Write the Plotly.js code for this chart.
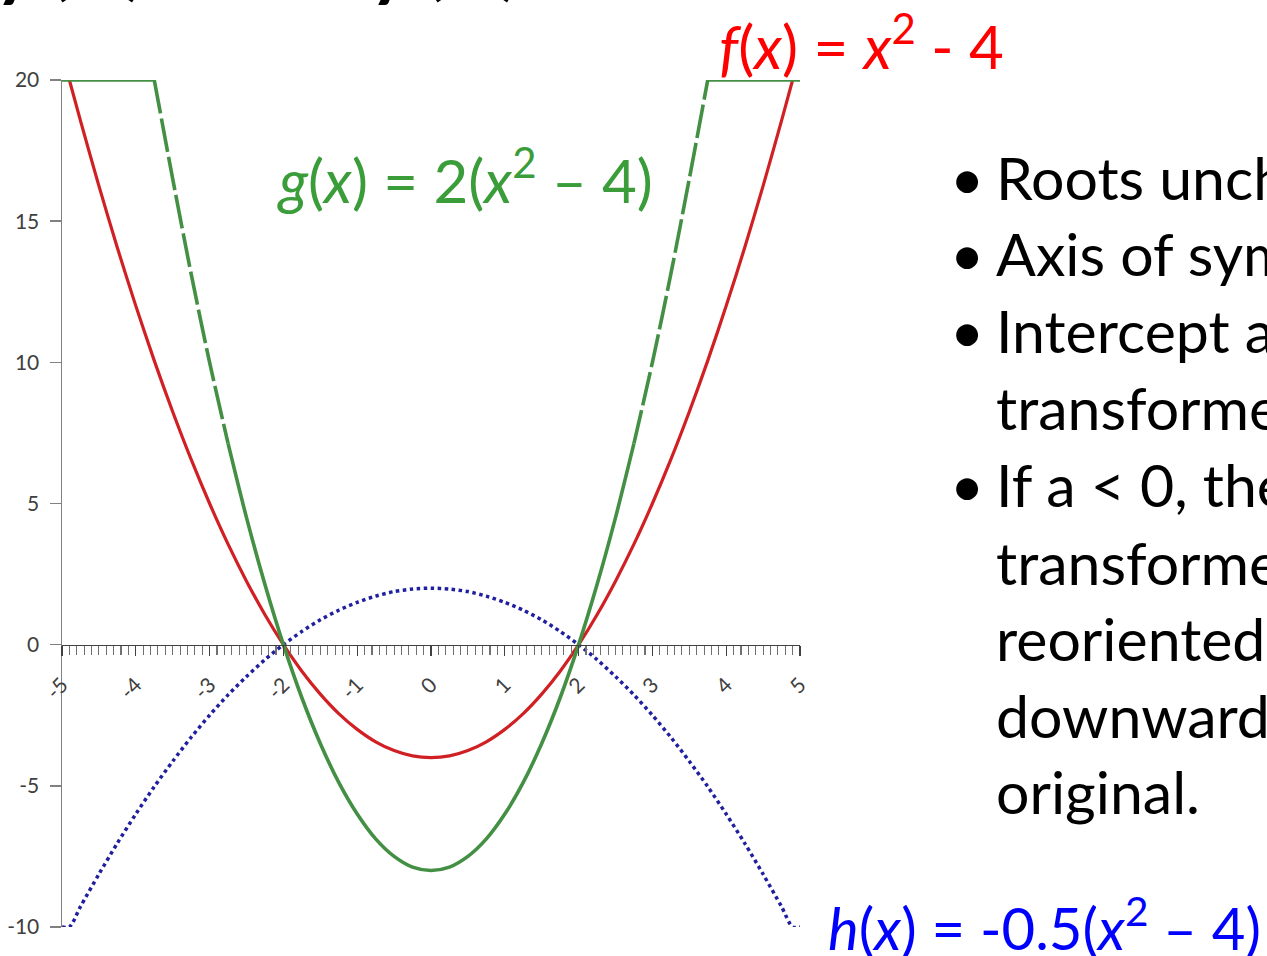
<!DOCTYPE html>
<html>
<head>
<meta charset="utf-8">
<script src="https://cdn.plot.ly/plotly-3.0.1.min.js"></script>
<style>
html,body{margin:0;padding:0;background:#fff;overflow:hidden;}
#chart{width:1267px;height:956px;}
</style>
</head>
<body>
<div id="chart"></div>
<script>
// ---- data ----
const xValues = [-5, -4.9, -4.75, -4.5, -4.25, -4, -3.75, -3.5, -3.25, -3, -2.75, -2.5, -2.25, -2, -1.75, -1.5, -1.25, -1, -0.75, -0.5, -0.25, 0,
                 0.25, 0.5, 0.75, 1, 1.25, 1.5, 1.75, 2, 2.25, 2.5, 2.75, 3, 3.25, 3.5, 3.75, 4, 4.25, 4.5, 4.75, 4.9, 5];
// f(x) = x^2 - 4 (red)
const fValues = [null, 20, 18.56, 16.25, 14.06, 12, 10.06, 8.25, 6.56, 5, 3.56, 2.25, 1.06, 0, -0.94, -1.75, -2.44, -3, -3.44, -3.75, -3.94, -4,
                 -3.94, -3.75, -3.44, -3, -2.44, -1.75, -0.94, 0, 1.06, 2.25, 3.56, 5, 6.56, 8.25, 10.06, 12, 14.06, 16.25, 18.56, 20, null];
// g(x) = 2(x^2 - 4) (green), capped at 20 in the picture
const gValues = [20, 20, 20, 20, 20, 20, 20, 16.5, 13.13, 10, 7.13, 4.5, 2.13, 0, -1.88, -3.5, -4.88, -6, -6.88, -7.5, -7.88, -8,
                 -7.88, -7.5, -6.88, -6, -4.88, -3.5, -1.88, 0, 2.13, 4.5, 7.13, 10, 13.13, 16.5, 20, 20, 20, 20, 20, 20, 20];
// h(x) = -0.5(x^2 - 4) (blue), capped at -10 in the picture
const hValues = [-10, -10, -9.28, -8.13, -7.03, -6, -5.03, -4.13, -3.28, -2.5, -1.78, -1.13, -0.53, 0, 0.47, 0.88, 1.22, 1.5, 1.72, 1.88, 1.97, 2,
                 1.97, 1.88, 1.72, 1.5, 1.22, 0.88, 0.47, 0, -0.53, -1.13, -1.78, -2.5, -3.28, -4.13, -5.03, -6, -7.03, -8.13, -9.28, -10, -10];
const yTickValues = [-10, -5, 0, 5, 10, 15, 20];
const yTickLabels = ['-10', '-5', '0', '5', '10', '15', '20'];
const xTickValues = [-5, -4, -3, -2, -1, 0, 1, 2, 3, 4, 5];
const xTickLabels = ['-5', '-4', '-3', '-2', '-1', '0', '1', '2', '3', '4', '5'];
const bulletLines = [
  {text: 'Roots unchanged', bullet: true},
  {text: 'Axis of symmetry unchanged', bullet: true},
  {text: 'Intercept and vertex', bullet: true},
  {text: 'transformed', bullet: false},
  {text: 'If a &lt; 0, then the', bullet: true},
  {text: 'transformed graph is', bullet: false},
  {text: 'reoriented', bullet: false},
  {text: 'downward from the', bullet: false},
  {text: 'original.', bullet: false}
];

// split green into steep (dashed-looking) and core parts
const steep = x => Math.abs(x) >= 2.75 && Math.abs(x) <= 3.75;
const core = x => Math.abs(x) <= 2.75 || Math.abs(x) >= 3.75;
const gSteep = gValues.map((v, i) => steep(xValues[i]) ? v : null);
const gCore = gValues.map((v, i) => core(xValues[i]) ? v : null);

// plot area in pixels
const L = 62, R = 800, T = 80, B = 927, W = 1267, H = 956;
const px = x => (x - L) / (R - L);
const py = y => (B - y) / (B - T);

const traces = [
  {x: xValues, y: hValues, mode: 'lines', line: {color: '#1f1fa0', width: 3.5, dash: 'dot', shape: 'spline', smoothing: 0.8}, cliponaxis: false, hoverinfo: 'skip'},
  {x: xValues, y: fValues, mode: 'lines', line: {color: '#d02024', width: 3.2, shape: 'spline', smoothing: 0.8}, cliponaxis: false, connectgaps: false, hoverinfo: 'skip'},
  {x: xValues, y: gCore, mode: 'lines', line: {color: '#438f43', width: 3.6, shape: 'spline', smoothing: 0.8}, cliponaxis: false, connectgaps: false, hoverinfo: 'skip'},
  {x: xValues, y: gSteep, mode: 'lines', line: {color: '#438f43', width: 3.6, shape: 'spline', smoothing: 0.8, dash: '34px,5px'}, cliponaxis: false, connectgaps: false, hoverinfo: 'skip'}
];

const bodyFont = 'Lato, "Open Sans", sans-serif';
const annotations = [];
annotations.push({xref: 'paper', yref: 'paper', x: px(861), y: py(42), xanchor: 'center', yanchor: 'middle', showarrow: false,
  text: '<i>f</i>(<i>x</i>) = <i>x</i><sup>2</sup> - 4', font: {family: bodyFont, size: 60, color: '#ff0000'}});
annotations.push({xref: 'paper', yref: 'paper', x: px(465), y: py(176), xanchor: 'center', yanchor: 'middle', showarrow: false,
  text: '<i>g</i>(<i>x</i>) = 2(<i>x</i><sup>2</sup> \u2013 4)', font: {family: bodyFont, size: 60, color: '#3a9d3a'}});
annotations.push({xref: 'paper', yref: 'paper', x: px(826), y: py(924), xanchor: 'left', yanchor: 'middle', showarrow: false,
  text: '<i>h</i>(<i>x</i>) = -0.5(<i>x</i><sup>2</sup> \u2013 4)', font: {family: bodyFont, size: 58, color: '#0000ff'}});
const lineY = [178, 253, 330, 407, 484, 562, 638, 715, 791];
bulletLines.forEach((ln, i) => {
  annotations.push({xref: 'paper', yref: 'paper', x: px(994), y: py(lineY[i]), xanchor: 'left', yanchor: 'middle', showarrow: false,
    text: ln.text, font: {family: bodyFont, size: 59, color: '#000000'}});
  if (ln.bullet) {
    annotations.push({xref: 'paper', yref: 'paper', x: px(967), y: py(lineY[i]), xanchor: 'center', yanchor: 'middle', showarrow: false,
      text: '\u2022', font: {family: bodyFont, size: 59, color: '#000000'}});
  }
});
// cut-off slide title at the very top
annotations.push({xref: 'paper', yref: 'paper', x: px(-12), y: py(-54), xanchor: 'left', yanchor: 'middle', showarrow: false,
  text: 'y(x)', font: {family: bodyFont, size: 104, color: '#000000'}});
annotations.push({xref: 'paper', yref: 'paper', x: px(363), y: py(-54), xanchor: 'left', yanchor: 'middle', showarrow: false,
  text: 'y(x)', font: {family: bodyFont, size: 104, color: '#000000'}});

const layout = {
  width: W, height: H,
  margin: {l: L, r: W - R, t: T, b: H - B, pad: 0},
  paper_bgcolor: '#ffffff', plot_bgcolor: '#ffffff',
  showlegend: false,
  font: {family: bodyFont, color: '#404040'},
  xaxis: {
    range: [-5, 5], anchor: 'free', position: 1 / 3,
    showgrid: false, zeroline: false, showline: true, linecolor: '#404040', linewidth: 1.5,
    tickmode: 'array', tickvals: xTickValues, ticktext: xTickLabels, tickangle: -45,
    ticks: 'outside', ticklen: 10, tickwidth: 1.3, tickcolor: '#404040', ticklabelstandoff: 8,
    minor: {dtick: 0.1, ticks: 'outside', ticklen: 9, tickwidth: 1.1, tickcolor: '#707070', showgrid: false},
    tickfont: {family: bodyFont, size: 21, color: '#404040'}
  },
  yaxis: {
    range: [-10, 20], showgrid: false, zeroline: false, showline: true, linecolor: '#808080', linewidth: 1.5,
    tickmode: 'array', tickvals: yTickValues, ticktext: yTickLabels,
    ticks: 'outside', ticklen: 11, tickwidth: 1.5, tickcolor: '#808080', ticklabelstandoff: 6,
    tickfont: {family: bodyFont, size: 21, color: '#404040'}
  },
  annotations: annotations
};

Plotly.newPlot('chart', traces, layout, {displayModeBar: false, staticPlot: true});
</script>
</body>
</html>
